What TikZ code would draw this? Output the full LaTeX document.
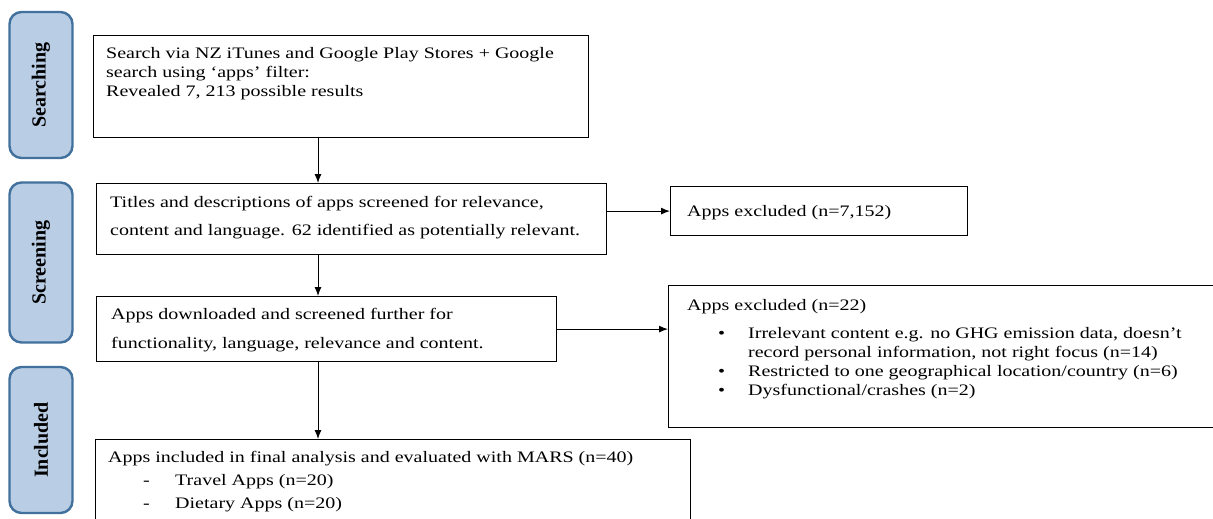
\documentclass[tikz,border=0pt]{standalone}
\usepackage{fontspec}
\setmainfont{Liberation Serif}[FakeStretch=1.25]
\newfontfamily\sidefont{Liberation Serif}
\usetikzlibrary{arrows.meta,calc}
\definecolor{sidefill}{HTML}{B9CDE5}
\definecolor{sidedraw}{HTML}{41719C}
\begin{document}
\begin{tikzpicture}[x=1pt,y=-1pt,
  box/.style={draw=black, line width=1.2pt, inner sep=0pt, anchor=north west},
  side/.style={draw=sidedraw, fill=sidefill, line width=2.4pt, rounded corners=12pt, inner sep=0pt, rotate=90, minimum height=63pt, font=\sidefont\bfseries\fontsize{20}{22}\selectfont},
  txt/.style={inner sep=0pt, anchor=north west, align=left, font=\fontsize{16}{19}\selectfont},
  arr/.style={line width=1pt, -{Latex[length=9pt,width=7pt]}}]
\path[use as bounding box, fill=white] (0,0) rectangle (1213,519);

% stage labels
\node[side, minimum width=146pt] (s1) at (41,85) {Searching};
\node[side, minimum width=160pt] (s2) at (41,262.5) {Screening};
\node[side, minimum width=146pt] (s3) at (41,440) {Included};

% boxes
\node[box, minimum width=495pt, minimum height=102pt] (b1) at (93,35) {};
\node[box, minimum width=510pt, minimum height=71pt] (b2) at (96,183) {};
\node[box, minimum width=297pt, minimum height=49pt] (b3) at (670,186) {};
\node[box, minimum width=460pt, minimum height=65pt] (b4) at (96,296) {};
\node[box, minimum width=560pt, minimum height=142pt] (b5) at (668,285) {};
\node[box, minimum width=595pt, minimum height=100pt] (b6) at (95,439) {};

% texts
\node[txt] (t1) at (106,47) {Search via NZ iTunes and Google Play Stores + Google\\search using ‘apps’ filter:\\Revealed 7, 213 possible results};
\node[txt, font=\fontsize{16}{28}\selectfont] (t2) at (110,196) {Titles and descriptions of apps screened for relevance,\\content and language. 62 identified as potentially relevant.};
\node[txt] (t3) at (687,205) {Apps excluded (n=7,152)};
\node[txt, font=\fontsize{16}{29}\selectfont] (t4) at (111,308) {Apps downloaded and screened further for\\functionality, language, relevance and content.};
\node[txt] (t5) at (687,299) {Apps excluded (n=22)\\[9pt]
\hspace*{31pt}\makebox[30pt][l]{•}Irrelevant content e.g. no GHG emission data, doesn’t\\
\hspace*{61pt}record personal information, not right focus (n=14)\\
\hspace*{31pt}\makebox[30pt][l]{•}Restricted to one geographical location/country (n=6)\\
\hspace*{31pt}\makebox[30pt][l]{•}Dysfunctional/crashes (n=2)};
\node[txt, font=\fontsize{16}{23}\selectfont] (t6) at (108,451) {Apps included in final analysis and evaluated with MARS (n=40)\\
\hspace*{35pt}\makebox[32pt][l]{-}Travel Apps (n=20)\\
\hspace*{35pt}\makebox[32pt][l]{-}Dietary Apps (n=20)};

% connectors
\coordinate (ax) at (318,0);
\draw[arr] (b1.south -| ax) -- (b2.north -| ax);
\draw[arr] (b2.east |- b3.west) -- (b3.west);
\draw[arr] (b2.south -| ax) -- (b4.north -| ax);
\draw[arr] (b4.east) -- (b4.east -| b5.west);
\draw[arr] (b4.south -| ax) -- (b6.north -| ax);
\end{tikzpicture}
\end{document}
